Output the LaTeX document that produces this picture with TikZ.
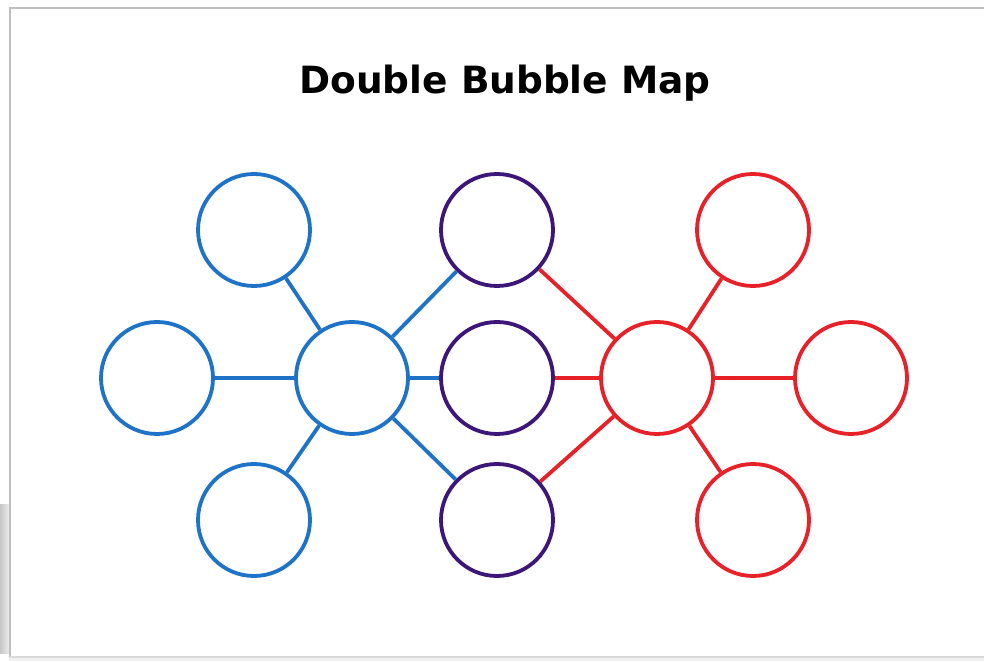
\documentclass[tikz,border=0pt]{standalone}
\usepackage{fontspec}
\setmainfont{DejaVu Sans}
\definecolor{bblue}{RGB}{30,115,200}
\definecolor{bpurple}{RGB}{60,22,120}
\definecolor{bred}{RGB}{232,32,40}
\begin{document}
\begin{tikzpicture}[x=1pt,y=1pt,
  bub/.style={circle,draw,line width=3.8pt,minimum size=112pt,inner sep=0pt},
  lnk/.style={line width=3.8pt}]
\useasboundingbox (0,0) rectangle (984,661);
\fill[white] (0,0) rectangle (984,661);
% frame and shadow
\shade[left color=black!22,right color=black!8] (0,8) rectangle (9,156);
\fill[black!6] (9,0) rectangle (984,5);
\draw[black!25,line width=1.5pt] (10,4) -- (10,653) -- (990,653);
\draw[black!15,line width=1.2pt] (10,4) -- (990,4);
% title
\node (title) at (505,578) {\fontsize{37.5}{40}\selectfont\bfseries Double Bubble Map};
% blue
\node[bub,draw=bblue] (bc) at (352,283) {};
\node[bub,draw=bblue] (bt) at (254,431) {};
\node[bub,draw=bblue] (bl) at (157,283) {};
\node[bub,draw=bblue] (bb) at (254,141) {};
% purple
\node[bub,draw=bpurple] (pt) at (497,431) {};
\node[bub,draw=bpurple] (pm) at (497,283) {};
\node[bub,draw=bpurple] (pb) at (497,141) {};
% red
\node[bub,draw=bred] (rc) at (657,283) {};
\node[bub,draw=bred] (rt) at (753,431) {};
\node[bub,draw=bred] (rr) at (851,283) {};
\node[bub,draw=bred] (rb) at (753,141) {};
% links
\foreach \n in {bt,bl,bb,pt,pm,pb} \draw[lnk,bblue] (bc) -- (\n);
\foreach \n in {rt,rr,rb,pt,pm,pb} \draw[lnk,bred] (rc) -- (\n);
\end{tikzpicture}
\end{document}
